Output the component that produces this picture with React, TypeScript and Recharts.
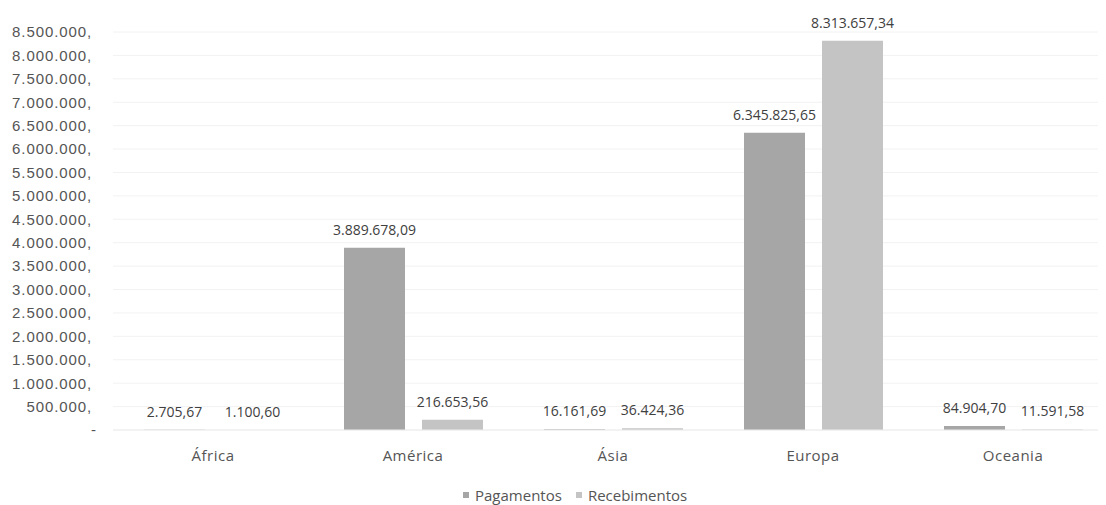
import { BarChart, Bar, XAxis, YAxis, CartesianGrid, Legend, LabelList } from "recharts";

const categories = ["África", "América", "Ásia", "Europa", "Oceania"];
const pagamentos = [2705.67, 3889678.09, 16161.69, 6345825.65, 84904.7];
const recebimentos = [1100.6, 216653.56, 36424.36, 8313657.34, 11591.58];
const yTicks = [
  0, 500000, 1000000, 1500000, 2000000, 2500000, 3000000, 3500000, 4000000,
  4500000, 5000000, 5500000, 6000000, 6500000, 7000000, 7500000, 8000000, 8500000,
];

const PAG = "#a6a6a6";
const REC = "#c4c4c4";

const data = categories.map((c, i) => ({ name: c, pag: pagamentos[i], rec: recebimentos[i] }));

// thousands with "." and decimals with ","
function groupDots(n: number) {
  return String(n).replace(/\B(?=(\d{3})+(?!\d))/g, ".");
}
function fmtMoney(v: number) {
  const [i, d] = v.toFixed(2).split(".");
  return groupDots(Number(i)) + "," + d;
}

// y tick: the zero shows as a dash, a bit to the right like the accounting format
function YTick(props: any) {
  const { x, y, payload } = props;
  const v = payload.value as number;
  return (
    <text x={v === 0 ? x + 5 : x} y={y} dy="0.355em" textAnchor="end"
      fontFamily="Liberation Sans" fontSize={15} fill="#555" letterSpacing={0.9}>
      {v === 0 ? "-" : groupDots(v) + ","}
    </text>
  );
}

const labelStyle = { fontFamily: "Open Sans", fontSize: 14, fill: "#404040" };

function LegendBox() {
  const item = (color: string, text: string) => (
    <span style={{ display: "inline-flex", alignItems: "center", marginRight: 14 }}>
      <span style={{ width: 6, height: 6, background: color, marginRight: 6, display: "inline-block" }} />
      {text}
    </span>
  );
  return (
    <div style={{ height: 40, paddingTop: 17, boxSizing: "border-box", paddingLeft: 455,
      fontFamily: "Open Sans", fontSize: 15, color: "#555", lineHeight: "20px", whiteSpace: "nowrap" }}>
      {item(PAG, "Pagamentos")}
      {item(REC, "Recebimentos")}
    </div>
  );
}

export default function App() {
  return (
    <BarChart width={1090} height={497} data={data}
      margin={{ top: 24, right: -15, bottom: 0, left: 0 }}
      barSize={61} barGap={17}>
      <CartesianGrid vertical={false} stroke="#f2f2f2" />
      <XAxis dataKey="name" height={35} tickLine={false} tickSize={0} tickMargin={20}
        axisLine={{ stroke: "#ececec" }}
        tick={{ fontFamily: "Open Sans", fontSize: 15, fill: "#555", letterSpacing: 0.5 }} />
      <YAxis width={105} domain={[0, 8500000]} ticks={yTicks} interval={0}
        axisLine={false} tickLine={false} tickSize={0} tickMargin={21} tick={<YTick />} />
      <Legend verticalAlign="bottom" height={40} content={() => <LegendBox />}
        wrapperStyle={{ left: 0, width: 1090 }} />
      <Bar dataKey="pag" name="Pagamentos" fill={PAG} isAnimationActive={false}>
        <LabelList dataKey="pag" position="top" offset={13} formatter={(v: any) => fmtMoney(Number(v))} style={labelStyle} />
      </Bar>
      <Bar dataKey="rec" name="Recebimentos" fill={REC} isAnimationActive={false}>
        <LabelList dataKey="rec" position="top" offset={13} formatter={(v: any) => fmtMoney(Number(v))} style={labelStyle} />
      </Bar>
    </BarChart>
  );
}
